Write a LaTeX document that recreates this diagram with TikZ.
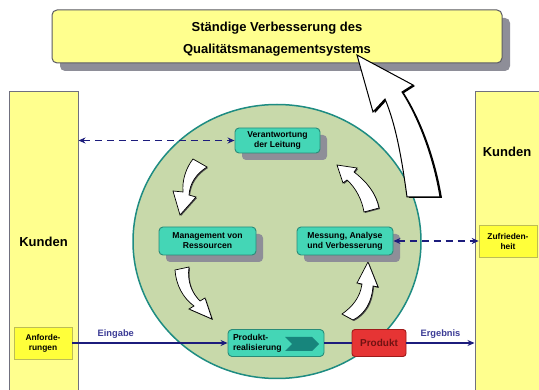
\documentclass[tikz,border=0pt]{standalone}
\usepackage{fontspec}
\setmainfont{Liberation Sans}
\usetikzlibrary{shadows,shapes.symbols,arrows.meta}
\definecolor{kreisgruen}{HTML}{C8D9AA}
\definecolor{kreisrand}{HTML}{1E8C82}
\definecolor{tuerkis}{HTML}{44D6B6}
\definecolor{tuerkisrand}{HTML}{2A8C78}
\definecolor{tuerkisdunkel}{HTML}{17857C}
\definecolor{schattengrau}{HTML}{8E8E98}
\definecolor{hellgelb}{HTML}{FFFF8E}
\definecolor{kundenrand}{HTML}{70707E}
\definecolor{gelb}{HTML}{FFFF3A}
\definecolor{gelbrand}{HTML}{BDBD55}
\definecolor{produktrot}{HTML}{E63434}
\definecolor{produktrand}{HTML}{A01A1A}
\definecolor{navy}{HTML}{1C1C7C}
\definecolor{labelblau}{HTML}{3C3C96}
\tikzset{
  prozess/.style={draw=tuerkisrand, fill=tuerkis, line width=0.9pt, rounded corners=4pt,
    align=center, inner sep=1pt, font=\fontsize{8.6}{10}\selectfont\bfseries},
  schatten/.style={drop shadow={shadow xshift=7pt, shadow yshift=-7pt, fill=schattengrau, opacity=1}},
  kunde/.style={draw=kundenrand, fill=hellgelb, line width=1pt, minimum width=69, minimum height=300,
    font=\fontsize{13}{15}\selectfont\bfseries},
  merkmal/.style={draw=gelbrand, fill=gelb, line width=0.6pt, align=center, inner sep=1pt,
    minimum width=58, minimum height=32, font=\fontsize{8.4}{10}\selectfont\bfseries},
  fluss/.style={draw=navy, line width=1.2pt, -{Stealth[length=7pt,width=6pt]}},
  rueck/.style={draw=navy, line width=1.2pt, dash pattern=on 7pt off 5pt,
    {Stealth[length=7pt,width=6pt]}-{Stealth[length=7pt,width=6pt]}},
  kreispfeil/.style={fill=white, draw=black, line width=0.7pt,
    drop shadow={shadow xshift=1pt, shadow yshift=-1pt, fill=black!70, opacity=1}},
  beschriftung/.style={text=labelblau, inner sep=1pt, font=\fontsize{9.3}{11}\selectfont\bfseries}
}
\begin{document}
\begin{tikzpicture}[x=1pt,y=-1pt]
\path[use as bounding box, fill=white] (0,0) rectangle (539,390);
\clip (0,0) rectangle (539,390);

\node[draw=kundenrand!80!black, fill=hellgelb, line width=1pt, rounded corners=5pt,
  minimum width=450, minimum height=53,
  drop shadow={shadow xshift=8pt, shadow yshift=-8pt, fill=schattengrau, opacity=1}]
  (verbesserung) at (277,36.5) {};
\node[align=center, font=\fontsize{13}{21.5}\selectfont\bfseries] (verbesserungtext) at (277,39)
  {Ständige Verbesserung des\\Qualitätsmanagementsystems};

\node[kunde] (kundenL) at (43.5,242) {Kunden};
\node[kunde, minimum width=70] (kundenR) at (510,242) {};
\node[font=\fontsize{13}{15}\selectfont\bfseries] (kundenRtext) at (507,152) {Kunden};

\draw[kreisrand, fill=kreisgruen, line width=1.5pt] (277,241.5) ellipse [x radius=144, y radius=137];

% Kreislauf
\draw[kreispfeil] (193,159) .. controls (186,168) and (182,180) .. (183,192) -- (173,191) -- (180,215)
  -- (196,197) -- (189,195) .. controls (190,183) and (196,174) .. (207,167) -- cycle;
\draw[kreispfeil] (175,270) .. controls (176,285) and (183,298) .. (194,306) -- (189,309) -- (212,319)
  -- (205,298) -- (200,301) .. controls (192,293) and (187,282) .. (189,267) -- cycle;
\draw[kreispfeil] (342,314) .. controls (352,307) and (360,298) .. (362,284) -- (357,283) -- (368,262)
  -- (378,287) -- (373,286) .. controls (372,302) and (365,314) .. (353,320) -- cycle;
\draw[kreispfeil] (364,212) .. controls (362,200) and (356,188) .. (347,180) -- (343,183) -- (337,165)
  -- (357,168) -- (354,172) .. controls (366,181) and (376,193) .. (379,208) -- cycle;
\draw[fill=white, draw=black, line width=1pt,
  drop shadow={shadow xshift=2pt, shadow yshift=-1pt, fill=black, opacity=1}]
  (407,197) .. controls (402,160) and (396,125) .. (385,99) -- (373,112) -- (357,55)
  -- (413,85) -- (402,92) .. controls (420,120) and (434,160) .. (440,197) -- cycle;

\node[prozess, schatten, minimum width=85, minimum height=25] (verantw) at (277.5,140.5)
  {Verantwortung\\der Leitung};
\node[prozess, schatten, minimum width=97, minimum height=28] (management) at (207.5,241)
  {Management von\\Ressourcen};
\node[prozess, schatten, minimum width=96, minimum height=28] (messung) at (345,241)
  {Messung, Analyse\\und Verbesserung};
\node[prozess, text width=86pt, inner xsep=5pt, align=left, minimum height=27] (prodreal) at (276,343)
  {Produkt-\\realisierung};
\node[signal, signal from=west, signal to=east, fill=tuerkisdunkel, minimum width=34, minimum height=14,
  inner sep=0pt] (prodsymbol) at (302,344) {};
\node[draw=produktrand, fill=produktrot, line width=0.9pt, rounded corners=3pt, minimum width=54,
  minimum height=27, text=produktrand!70!black, font=\fontsize{10}{12}\selectfont\bfseries] (produkt)
  at (379,343) {Produkt};

\node[merkmal] (anford) at (43,343) {Anforde-\\rungen};
\node[merkmal] (zufrieden) at (508,241) {Zufrieden-\\heit};

\draw[rueck] (kundenL.east |- verantw.west) -- (verantw.west);
\draw[rueck] (messung.east) -- (zufrieden.west);
\draw[fluss] (anford.east) -- node[beschriftung, above=3pt, pos=0.28] (eingabe) {Eingabe} (prodreal.west);
\draw[navy, line width=1.2pt] (prodreal.east) -- (produkt.west);
\draw[fluss] (produkt.east) -- node[beschriftung, above=3pt] (ergebnis) {Ergebnis} (kundenR.west |- produkt.east);
\end{tikzpicture}
\end{document}
